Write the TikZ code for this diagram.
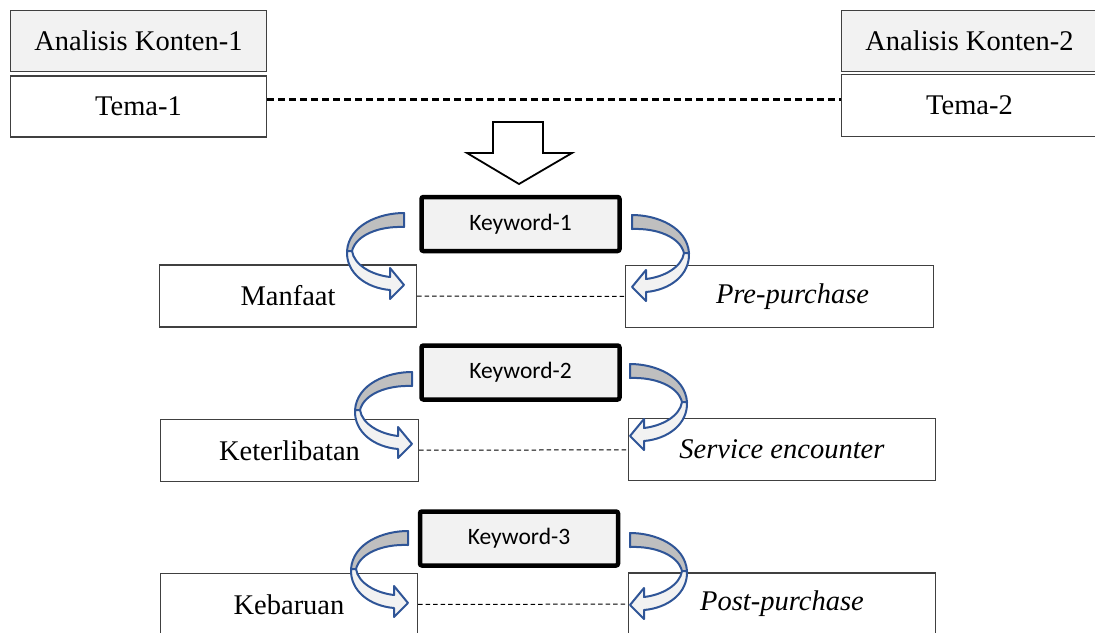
\documentclass[tikz,border=0pt]{standalone}
\usepackage{fontspec}
\setmainfont{Liberation Serif}
\newfontfamily\kwfont{Carlito}
\usetikzlibrary{positioning}

\definecolor{boxline}{RGB}{64,64,64}
\definecolor{boxfill}{RGB}{242,242,242}
\definecolor{ribbonline}{RGB}{47,85,151}
\definecolor{ribbonback}{RGB}{191,191,191}

\tikzset{
    tbox/.style={draw=boxline, line width=1.3pt, inner sep=0pt, minimum width=256pt, minimum height=61pt, font=\fontsize{28.5}{34}\selectfont},
    hbox/.style={tbox, fill=boxfill},
    sbox/.style={tbox, minimum height=62pt},
    kbox/.style={draw=black, line width=4.5pt, rounded corners=2pt, fill=boxfill, inner sep=0pt, minimum width=198pt, minimum height=54pt, font=\kwfont\fontsize{23.5}{28}\selectfont},
    topdash/.style={line width=2.2pt, dash pattern=on 7pt off 4pt},
    rowdash/.style={line width=1pt, dash pattern=on 4.5pt off 3pt},
    ribbon/.style={draw=ribbonline, line width=2pt, line join=round},
    pics/curl/.style={code={
        % back side of the ribbon
        \draw[ribbon, fill=ribbonback] (0,0) .. controls (-25,0) and (-55,12) .. (-57,38)
            -- (-52,38) .. controls (-48,22) and (-25,13) .. (0,14) -- cycle;
        % front side with the head
        \draw[ribbon, fill=boxfill] (-57,38) .. controls (-58,60) and (-38,75) .. (-14,77)
            -- (-14,86) -- (0,72) -- (-14,55) -- (-14,64)
            .. controls (-32,62) and (-50,52) .. (-52,38) -- cycle;
    }}
}

\begin{document}
\begin{tikzpicture}[x=1pt, y=-1pt]
    \useasboundingbox (0,0) rectangle (1095,632);

    % Content analyses
    \node[hbox] (konten1) at (138.5,41) {Analisis Konten-1};
    \node[tbox] (tema1) at (138.5,106.5) {Tema-1};
    \node[hbox] (konten2) at (969.5,41) {Analisis Konten-2};
    \node[sbox] (tema2) at (969.5,105.5) {Tema-2};
    \draw[topdash] ([yshift=7pt]tema1.east) -- ([yshift=6pt]tema2.west);

    % Block arrow
    \draw[line width=1.8pt, fill=white] (493,122) -- (543,122) -- (543,153) -- (572,153)
        -- (519,184) -- (467,153) -- (493,153) -- cycle;

    % Keywords
    \node[kbox] (kw1) at (520.5,224) {Keyword-1};
    \node[kbox] (kw2) at (520.5,372.5) {Keyword-2};
    \node[kbox] (kw3) at (519,538.5) {Keyword-3};

    % Themes per keyword
    \node[sbox, minimum width=257pt] (manfaat) at (288,296) {Manfaat};
    \node[sbox, minimum width=308pt] (prepur) at (779.5,296.5) {\hspace*{26pt}\textit{Pre-purchase}};
    \node[sbox, minimum width=258pt] (ketlib) at (289.5,450.5) {Keterlibatan};
    \node[sbox, minimum width=307pt] (service) at (782,449.5) {\textit{Service encounter}};
    \node[sbox, minimum width=257pt] (kebaruan) at (289,604.5) {Kebaruan};
    \node[sbox, minimum width=307pt] (postpur) at (782,604) {\textit{Post-purchase}};

    \foreach \a/\b in {manfaat/prepur, ketlib/service, kebaruan/postpur}
        \draw[rowdash] (\a) -- (\b);

    % Curved arrows
    \foreach \lx/\ly/\rx/\ry in {404/213/632/215, 412/372/630/364, 408/531/630/533} {
        \pic at (\lx,\ly) {curl};
        \pic[xscale=-1] at (\rx,\ry) {curl};
    }
\end{tikzpicture}
\end{document}
